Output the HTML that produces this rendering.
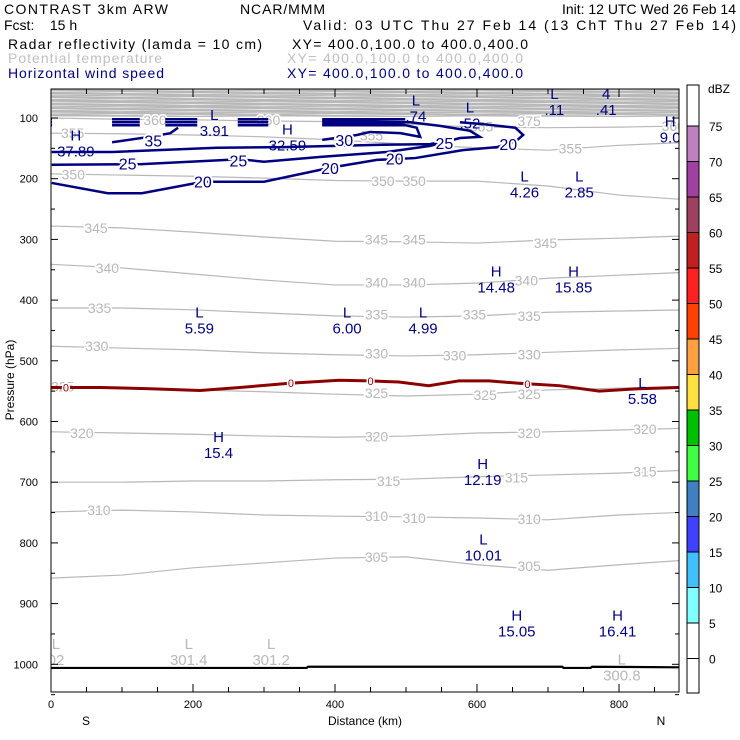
<!DOCTYPE html>
<html><head><meta charset="utf-8"><style>
html,body{margin:0;padding:0;background:#fff;}
svg{display:block;font-family:"Liberation Sans",sans-serif;}
</style></head><body>
<svg id="chart" width="740" height="740" viewBox="0 0 740 740" xmlns="http://www.w3.org/2000/svg">
<g font-size="14">
<text x="4" y="14" textLength="164">CONTRAST  3km ARW</text>
<text x="240" y="14" textLength="85">NCAR/MMM</text>
<text x="736" y="14" text-anchor="end">Init: 12 UTC Wed 26 Feb 14</text>
<text x="4" y="30" xml:space="preserve">Fcst:    15 h</text>
<text x="303" y="30" textLength="433">Valid: 03 UTC Thu 27 Feb 14 (13 ChT Thu 27 Feb 14)</text>
<text x="8" y="49" textLength="254">Radar reflectivity (lamda = 10 cm)</text>
<text x="292" y="49" textLength="236">XY= 400.0,100.0 to 400.0,400.0</text>
<text x="8" y="63" fill="#c0c0c0" textLength="154">Potential temperature</text>
<text x="287" y="63" fill="#c0c0c0" textLength="236">XY= 400.0,100.0 to 400.0,400.0</text>
<text x="8" y="78" fill="#000080" textLength="156">Horizontal wind speed</text>
<text x="287" y="78" fill="#000080" textLength="236">XY= 400.0,100.0 to 400.0,400.0</text>
</g>
<defs><clipPath id="pc"><rect x="51" y="89" width="628" height="603"/></clipPath></defs>
<g id="plot" clip-path="url(#pc)"></g>
<g id="axes"></g>
<g id="cbar"></g>
</svg>
<script>
const NS="http://www.w3.org/2000/svg";
// ---- data ----
const xNodes=[0,100,200,300,400,500,600,700,800,900];
const thetaLevels=[305,310,315,320,325,330,335,340,345,350,355,360];
const thetaP=[
[858,853,841,833,825,823,836,845,836,828],
[749,746,749,754,756,757,759,762,754,749],
[700,700,698,698,696,695,691,688,685,680],
[617,619,621,624,626,624,619,617,614,611],
[542,545,548,551,555,558,555,548,545,542],
[476,479,482,487,490,492,490,486,482,479],
[413,413,416,421,426,428,426,420,418,416],
[341,347,357,367,375,375,372,364,359,354],
[278,281,288,296,303,304,306,301,298,294],
[192,194,196,199,203,204,204,212,227,235],
[125,126,128,131,136,143,149,153,145,140],
[100,102,103,105,106,110,115,116,115,113]];
const stratoP=[97,95,93,91,89,87,85,83,81,79,77,75,73,71,69,67,65,63,61,59,57,55,53,51,49];
const thetaLabels=[["355",14,125],["350",15,193],["345",47,281],["340",63,347],["335",52,413],["330",48,476],["325",0,542],["320",27,619],["310",51,746],["360",860,113],["355",715,150],["350",451,204],["350",495,204],["345",442,300],["345",495,300],["345",680,306],["340",442,371],["340",495,371],["340",653,368],["335",442,424],["335",580,424],["335",657,426],["330",442,488],["330",552,491],["330",657,490],["325",442,553],["325",595,556],["325",657,555],["320",442,625],["320",657,619],["320",820,612],["315",459,698],["315",639,692],["315",820,682],["310",442,756],["310",495,759],["310",657,761],["305",442,823],["305",657,838],["375",657,105],["360",130,103],["360",290,103],["355",435,129],["355",590,114]];
const windKm=[
[1,80,128,214,300,393,459,513,580,628,655,665,654,608,576],
[1,128,266,300,380,473,534,576,604,590,548,506,382],
[1,86,234,327,468,534,555],
[86,139,168,179],
[382,431,449,492,520,515,492,382]];
const windP=[
[207,224,224,205,205,182,169,166,153,148,138,128,116,110,107],
[177,176,168,172,164,156,146,133,131,121,113,107,105],
[156,156,149,148,144,143,138],
[140,131,125,116],
[136,128,123,125,131,116,110,110]];
const stripeKm=[[0,1.5],[86,125],[161,206],[263,306],[382,499]];
const stripeP=[102,107,112];
const windLabels=[["35",144,137],["30",413,136],["25",554,141],["20",644,143],["25",108,175],["25",264,170],["20",214,205],["20",393,182],["20",484,167]];
const zeroKm=[0,70,140,210,266,336,406,448,490,532,575,617,659,716,772,828,884];
const zeroP=[544,544,546,549,544,537,532,533,535,541,533,533,537,541,550,546,544];
const zeroLabels=[21,338,450,671];
const surfKm=[0,200,360,362,600,720,722,760,762,884];
const surfP=[1006,1006,1006,1004,1004,1004,1006,1006,1004,1005];
const extremaNavy=[["L","3.91",230,103],["L",".74",514,79],["L",".52",590,91],["L",".11",709,69],["4",".41",782,69],["H","9.0",872,114],["H","37.89",35,137],["H","32.59",333,127],["L","4.26",667,205],["L","2.85",744,205],["H","14.48",627,361],["H","15.85",736,361],["L","5.59",209,429],["L","6.00",417,429],["L","4.99",524,429],["L","5.58",833,545],["H","15.4",236,634],["H","12.19",608,678],["L","10.01",609,803],["H","15.05",656,928],["H","16.41",798,928]];
const extremaGray=[["L","02",7,975],["L","301.4",194,975],["L","301.2",310,975],["L","300.8",804,1000]];
const yTicks=[100,200,300,400,500,600,700,800,900,1000];
const xTicks=[0,200,400,600,800];
const cbLevels=[75,70,65,60,55,50,45,40,35,30,25,20,15,10,5,0];
const cbColors=["#ffffff","#c080c0","#a040a0","#a04060","#c02020","#ff2020","#ff4000","#ffa040","#ffe040","#00c000","#40ff40","#4080c0","#4040ff","#40c0ff","#80ffff","#ffffff","#ffffff"];
// ---- scales ----
const X=km=>51+km*0.71;
const Y=p=>118+(p-100)*0.607;
function el(t,a,parent,txt){const e=document.createElementNS(NS,t);for(const k in a)e.setAttribute(k,a[k]);if(txt!==undefined)e.textContent=txt;parent.appendChild(e);return e;}
const plot=document.getElementById('plot'),axes=document.getElementById('axes'),cbar=document.getElementById('cbar');
stratoP.forEach((p,i)=>{const pts=xNodes.map((k,j)=>X(k)+','+Y(p+((i+j)%3-1)*0.6)).join(' ');
const e=el('polyline',{points:pts,fill:'none',stroke:'#b8b8b8','stroke-width':1.2},plot);
});
thetaP.forEach((row,i)=>{const pts=row.map((p,j)=>X(xNodes[j])+','+Y(p)).join(' ');
const e=el('polyline',{points:pts,fill:'none',stroke:'#b8b8b8','stroke-width':1.2},plot);
});
thetaLabels.forEach(l=>{const e=el('text',{x:X(l[1]),y:Y(l[2])+5,'font-size':14,fill:'#b8b8b8',stroke:'#fff','stroke-width':3,'paint-order':'stroke'},plot,l[0]);
});
{const pts=zeroKm.map((k,i)=>X(k)+','+Y(zeroP[i])).join(' ');
const e=el('polyline',{points:pts,fill:'none',stroke:'#8b0000','stroke-width':3},plot);

zeroLabels.forEach(k=>{let i=0;while(i<zeroKm.length-2&&zeroKm[i+1]<k)i++;const f=(k-zeroKm[i])/(zeroKm[i+1]-zeroKm[i]);const p=zeroP[i]+f*(zeroP[i+1]-zeroP[i]);
const t=el('text',{x:X(k),y:Y(p)+4,'font-size':11,fill:'#8b0000','text-anchor':'middle',stroke:'#fff','stroke-width':3,'paint-order':'stroke'},plot,'0');
});}
{const pts=surfKm.map((k,i)=>X(k)+','+Y(surfP[i])).join(' ');
const e=el('polyline',{points:pts,fill:'none',stroke:'#000','stroke-width':2.2},plot);
}
windKm.forEach((row,i)=>{const pts=row.map((k,j)=>X(k)+','+Y(windP[i][j])).join(' ');
const e=el('polyline',{points:pts,fill:'none',stroke:'#000080','stroke-width':2.5},plot);
});
stripeKm.forEach(r=>stripeP.forEach(p=>{const e=el('line',{x1:X(r[0]),x2:X(r[1]),y1:Y(p),y2:Y(p),stroke:'#000080','stroke-width':2.5},plot);
}));
windLabels.forEach(l=>{const e=el('text',{x:X(l[1]),y:Y(l[2])+6,'font-size':16,fill:'#000080','text-anchor':'middle',stroke:'#fff','stroke-width':4,'paint-order':'stroke'},plot,l[0]);
});
extremaNavy.forEach(l=>{const g=el('g',{},plot);
el('text',{x:X(l[2]),y:Y(l[3]),'font-size':15,fill:'#000080','text-anchor':'middle'},g,l[0]);
el('text',{x:X(l[2]),y:Y(l[3])+16,'font-size':15,fill:'#000080','text-anchor':'middle'},g,l[1]);});
extremaGray.forEach(l=>{const g=el('g',{},plot);
el('text',{x:X(l[2]),y:Y(l[3]),'font-size':15,fill:'#b8b8b8','text-anchor':'middle'},g,l[0]);
el('text',{x:X(l[2]),y:Y(l[3])+16,'font-size':15,fill:'#b8b8b8','text-anchor':'middle'},g,l[1]);});
{const f=el('rect',{x:51,y:89,width:628,height:603,fill:'none',stroke:'#000','stroke-width':1},axes);
}
yTicks.forEach(p=>{el('line',{x1:51,x2:58,y1:Y(p),y2:Y(p),stroke:'#000'},axes);el('line',{x1:672,x2:679,y1:Y(p),y2:Y(p),stroke:'#000'},axes);
el('line',{x1:51,x2:55,y1:Y(p+50),y2:Y(p+50),stroke:'#000'},axes);el('line',{x1:675,x2:679,y1:Y(p+50),y2:Y(p+50),stroke:'#000'},axes);
const t=el('text',{x:38,y:Y(p)+4,'font-size':11,'text-anchor':'end'},axes,String(p));});
for(let k=50;k<884;k+=50){const len=(k%200===0)?8:5;el('line',{x1:X(k),x2:X(k),y1:692,y2:692-len,stroke:'#000'},axes);el('line',{x1:X(k),x2:X(k),y1:89,y2:89+len,stroke:'#000'},axes);}
xTicks.forEach(k=>{const t=el('text',{x:X(k),y:708,'font-size':11,'text-anchor':'middle'},axes,String(k));});
{let t=el('text',{x:365,y:725,'font-size':12,'text-anchor':'middle'},axes,'Distance (km)');
t=el('text',{x:86,y:725,'font-size':12,'text-anchor':'middle'},axes,'S');
t=el('text',{x:661,y:725,'font-size':12,'text-anchor':'middle'},axes,'N');
t=el('text',{x:14,y:380,'font-size':12,'text-anchor':'middle',transform:'rotate(-90 14 380)'},axes,'Pressure (hPa)');}
const CY=v=>126+(75-v)*7.1;
cbColors.forEach((c,i)=>{const top=i===0?85:CY(cbLevels[i-1]);const bot=i<cbLevels.length?CY(cbLevels[i]):693;
const r=el('rect',{x:687,y:top,width:12,height:bot-top,fill:c,stroke:'#000','stroke-width':1},cbar);
});
cbLevels.forEach(v=>{const t=el('text',{x:709,y:CY(v)+5,'font-size':12},cbar,String(v));});
{const t=el('text',{x:708,y:93,'font-size':12},cbar,'dBZ');}
</script>
</body></html>
